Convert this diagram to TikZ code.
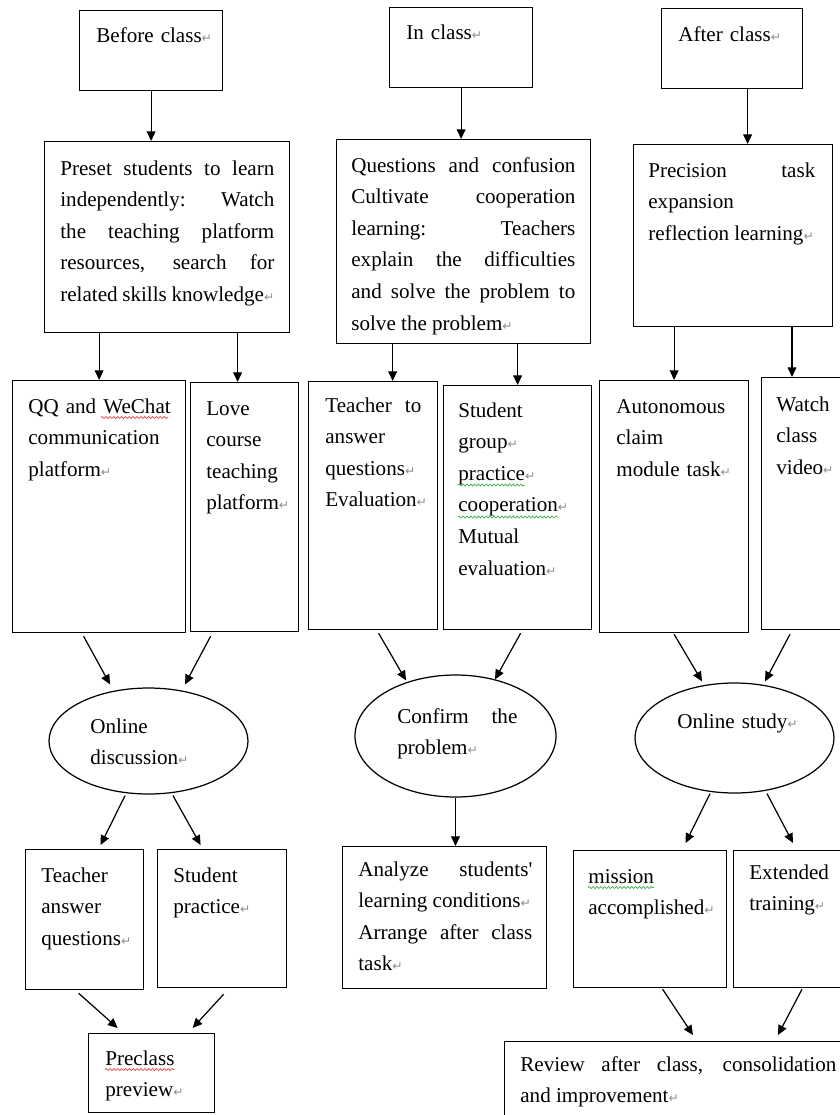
\documentclass[tikz,border=0pt]{standalone}
\usepackage{fontspec}
\setmainfont{Liberation Serif}
\newfontfamily\markfont{DejaVu Sans}
\usepackage{xcolor}
\usepackage{tikz}
\usetikzlibrary{positioning, calc, shapes.geometric, arrows.meta, decorations.pathmorphing}
\definecolor{retn}{HTML}{8E8E8E}
\definecolor{spred}{HTML}{E8484A}
\definecolor{spgrn}{HTML}{3DAE4A}

\newcommand\pmark{{\markfont\fontsize{7}{7}\selectfont\color{retn}\char"21B5}}
\hyphenpenalty=10000
\exhyphenpenalty=10000

\begin{document}
\begin{tikzpicture}[
  blk/.style={draw, line width=0.7pt, inner sep=0pt, anchor=north west},
  ovl/.style={draw, ellipse, line width=0.7pt, inner sep=0pt},
  btx/.style={font=\fontsize{12}{18}\selectfont, anchor=base west, inner sep=0pt,
              text width=5cm, align=left},
  jtx/.style={font=\fontsize{12}{18}\selectfont, anchor=base west, inner sep=0pt,
              text width=#1, align=justify},
  arr/.style={line width=0.7pt, -{Triangle[length=5.5pt,width=5pt]}},
  wavy/.style={draw=#1, line width=0.4pt, decorate,
               decoration={snake, segment length=2.2pt, amplitude=0.6pt}}
]
  \path[use as bounding box, clip] (0,0) rectangle (16.8,-22.3);
  \fill[white] (0,0) rectangle (16.8,-22.3);

  \node[blk, minimum width=2.86cm, minimum height=1.60cm] (bef) at (1.58,-0.20) {};
  \node[btx] at ([xshift=0.34cm,yshift=-0.64cm]bef.north west) {Before class\pmark};

  \node[blk, minimum width=4.90cm, minimum height=3.82cm] (pre) at (0.88,-2.82) {};
  \node[jtx=4.28cm] at ([xshift=0.32cm,yshift=-0.68cm]pre.north west) {Preset students to learn\linebreak
    independently: Watch\linebreak the teaching platform\linebreak resources, search for\linebreak
    related skills knowledge\pmark};

  \node[blk, minimum width=3.46cm, minimum height=5.04cm] (qq) at (0.24,-7.60) {};
  \node[btx] at ([xshift=0.32cm,yshift=-0.66cm]qq.north west) {QQ and WeChat\\
    communication\\ platform\pmark};
  \draw[wavy=spred] ([xshift=1.78cm,yshift=-0.75cm]qq.north west) -- ++(1.34,0);

  \node[blk, minimum width=2.16cm, minimum height=4.98cm] (love) at (3.80,-7.64) {};
  \node[btx] at ([xshift=0.32cm,yshift=-0.66cm]love.north west) {Love\\ course\\ teaching\\ platform\pmark};

  \node[ovl, minimum width=3.98cm, minimum height=2.12cm] (od) at (2.97,-14.82) {};
  \node[btx] at ([xshift=-1.17cm,yshift=0.16cm]od.center) {Online\\ discussion\pmark};

  \node[blk, minimum width=2.36cm, minimum height=2.80cm] (tans) at (0.50,-16.98) {};
  \node[btx] at ([xshift=0.32cm,yshift=-0.66cm]tans.north west) {Teacher\\ answer\\ questions\pmark};

  \node[blk, minimum width=2.58cm, minimum height=2.76cm] (sprac) at (3.14,-16.98) {};
  \node[btx] at ([xshift=0.32cm,yshift=-0.66cm]sprac.north west) {Student\\ practice\pmark};

  \node[blk, minimum width=2.52cm, minimum height=1.58cm] (prev) at (1.76,-20.66) {};
  \node[btx] at ([xshift=0.34cm,yshift=-0.64cm]prev.north west) {Preclass\\ preview\pmark};
  \draw[wavy=spred] ([xshift=0.34cm,yshift=-0.73cm]prev.north west) -- ++(1.38,0);

  \node[blk, minimum width=2.86cm, minimum height=1.60cm] (inc) at (7.78,-0.14) {};
  \node[btx] at ([xshift=0.34cm,yshift=-0.64cm]inc.north west) {In class\pmark};

  \node[blk, minimum width=5.08cm, minimum height=4.08cm] (que) at (6.72,-2.78) {};
  \node[jtx=4.48cm] at ([xshift=0.30cm,yshift=-0.66cm]que.north west) {Questions and confusion\linebreak
    Cultivate cooperation\linebreak learning: Teachers\linebreak explain the difficulties\linebreak
    and solve the problem to\linebreak solve the problem\pmark};

  \node[blk, minimum width=2.58cm, minimum height=4.96cm] (tto) at (6.16,-7.62) {};
  \node[jtx=1.92cm] at ([xshift=0.34cm,yshift=-0.62cm]tto.north west) {Teacher to\linebreak
    answer\\ questions\pmark\\ Evaluation\pmark};

  \node[blk, minimum width=2.96cm, minimum height=4.88cm] (sgr) at (8.86,-7.70) {};
  \node[btx] at ([xshift=0.30cm,yshift=-0.64cm]sgr.north west) {Student\\ group\pmark\\
    practice\pmark\\ cooperation\pmark\\ Mutual\\ evaluation\pmark};
  \draw[wavy=spgrn] ([xshift=0.30cm,yshift=-2.00cm]sgr.north west) -- ++(1.34,0);
  \draw[wavy=spgrn] ([xshift=0.30cm,yshift=-2.64cm]sgr.north west) -- ++(2.00,0);

  \node[ovl, minimum width=4.02cm, minimum height=2.44cm] (conf) at (9.11,-14.72) {};
  \node[jtx=2.4cm] at ([xshift=-1.17cm,yshift=0.26cm]conf.center) {Confirm the\linebreak problem\pmark};

  \node[blk, minimum width=4.08cm, minimum height=2.84cm] (ana) at (6.84,-16.92) {};
  \node[jtx=3.48cm] at ([xshift=0.32cm,yshift=-0.60cm]ana.north west) {Analyze students\textquotesingle\linebreak
    learning conditions\pmark\\ Arrange after class\linebreak task\pmark};

  \node[blk, minimum width=2.82cm, minimum height=1.60cm] (aft) at (13.22,-0.16) {};
  \node[btx] at ([xshift=0.34cm,yshift=-0.66cm]aft.north west) {After class\pmark};

  \node[blk, minimum width=3.98cm, minimum height=3.64cm] (prc) at (12.66,-2.88) {};
  \node[jtx=3.34cm] at ([xshift=0.30cm,yshift=-0.66cm]prc.north west) {Precision task\linebreak
    expansion\\ reflection learning\pmark};

  \node[blk, minimum width=2.98cm, minimum height=5.04cm] (aut) at (11.98,-7.60) {};
  \node[btx] at ([xshift=0.34cm,yshift=-0.66cm]aut.north west) {Autonomous\\ claim\\ module task\pmark};

  \node[blk, minimum width=2.40cm, minimum height=5.04cm] (wat) at (15.22,-7.54) {};
  \node[btx] at ([xshift=0.30cm,yshift=-0.68cm]wat.north west) {Watch\\ class\\ video\pmark};

  \node[ovl, minimum width=3.98cm, minimum height=2.20cm] (ost) at (14.69,-14.76) {};
  \node[btx] at ([xshift=-1.15cm,yshift=0.20cm]ost.center) {Online study\pmark};

  \node[blk, minimum width=3.06cm, minimum height=2.74cm] (mis) at (11.46,-17.00) {};
  \node[btx] at ([xshift=0.30cm,yshift=-0.66cm]mis.north west) {mission\\ accomplished\pmark};
  \draw[wavy=spgrn] ([xshift=0.30cm,yshift=-0.75cm]mis.north west) -- ++(1.32,0);

  \node[blk, minimum width=2.40cm, minimum height=2.74cm] (ext) at (14.66,-17.00) {};
  \node[btx] at ([xshift=0.32cm,yshift=-0.58cm]ext.north west) {Extended\\ training\pmark};

  \node[blk, minimum width=6.80cm, minimum height=2.00cm] (rev) at (10.08,-20.82) {};
  \node[jtx=6.32cm] at ([xshift=0.32cm,yshift=-0.60cm]rev.north west) {Review after class, consolidation\linebreak
    and improvement\pmark};

  \draw[arr] (bef.south) -- (bef.south |- pre.north);
  \draw[arr] (qq.north |- pre.south) -- (qq.north);
  \draw[arr] ([xshift=-0.14cm]love.north |- pre.south) -- ([xshift=-0.14cm]love.north);
  \draw[arr] ([xshift=-0.31cm,yshift=-0.06cm]qq.south) -- ([xshift=-0.77cm,yshift=0.06cm]od.north);
  \draw[arr] ([xshift=-0.68cm,yshift=-0.08cm]love.south) -- ([xshift=0.73cm,yshift=0.06cm]od.north);
  \draw[arr] ([xshift=-0.47cm,yshift=-0.02cm]od.south) -- ([xshift=0.32cm,yshift=0.08cm]tans.north);
  \draw[arr] ([xshift=0.49cm,yshift=-0.02cm]od.south) -- ([xshift=-0.43cm,yshift=0.08cm]sprac.north);
  \draw[arr] ([xshift=-0.12cm,yshift=-0.06cm]tans.south) -- ([xshift=-0.68cm,yshift=0.10cm]prev.north);
  \draw[arr] ([xshift=0.03cm,yshift=-0.12cm]sprac.south) -- ([xshift=0.82cm,yshift=0.10cm]prev.north);

  \draw[arr] (inc.south) -- (inc.south |- que.north);
  \draw[arr] ([xshift=0.39cm]tto.north |- que.south) -- ([xshift=0.39cm]tto.north);
  \draw[arr] (sgr.north |- que.south) -- (sgr.north);
  \draw[arr] ([xshift=0.11cm,yshift=-0.06cm]tto.south) -- ([xshift=-0.99cm,yshift=-0.12cm]conf.north);
  \draw[arr] ([xshift=0.06cm,yshift=-0.06cm]sgr.south) -- ([xshift=0.79cm,yshift=-0.10cm]conf.north);
  \draw[arr] (conf.south) -- (conf.south |- ana.north);

  \draw[arr] ([xshift=0.31cm]aft.south) -- ([xshift=0.31cm]aft.south |- prc.north);
  \draw[arr] (aut.north |- prc.south) -- (aut.north);
  \draw[arr] ([xshift=0.62cm]wat.north west |- prc.south) -- ([xshift=0.62cm]wat.north west);
  \draw[arr] ([yshift=-0.02cm]aut.south) -- ([xshift=-0.65cm,yshift=0.02cm]ost.north);
  \draw[arr] ([xshift=0.58cm,yshift=-0.08cm]wat.south west) -- ([xshift=0.61cm,yshift=0.02cm]ost.north);
  \draw[arr] ([xshift=-0.49cm]ost.south) -- ([xshift=0.71cm,yshift=0.14cm]mis.north);
  \draw[arr] ([xshift=0.65cm]ost.south) -- ([xshift=1.20cm,yshift=0.14cm]ext.north west);
  \draw[arr] ([xshift=0.25cm,yshift=-0.02cm]mis.south) -- ([xshift=3.78cm,yshift=0.12cm]rev.north west);
  \draw[arr] ([xshift=1.38cm,yshift=-0.02cm]ext.south west) -- ([xshift=5.48cm,yshift=0.12cm]rev.north west);
\end{tikzpicture}
\end{document}
